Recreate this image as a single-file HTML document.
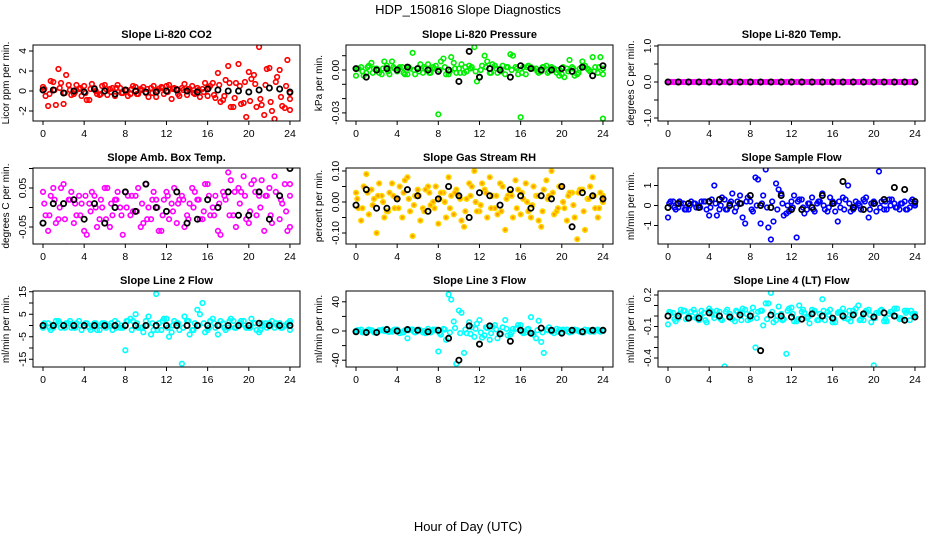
<!DOCTYPE html>
<html><head><meta charset="utf-8">
<style>
body{margin:0;background:#fff;}
svg{display:block;font-family:"Liberation Sans",Arial,sans-serif;}
</style></head>
<body>
<svg id="chart" width="936" height="540" viewBox="0 0 936 540">
<text x="468" y="14" font-size="13" text-anchor="middle">HDP_150816  Slope Diagnostics</text>
<text x="468" y="531" font-size="13" text-anchor="middle">Hour of Day (UTC)</text>
</svg>
<script>
// ---- data ----
const xTicks = [0,4,8,12,16,20,24];
const blackHours = [0,1,2,3,4,5,6,7,8,9,10,11,12,13,14,15,16,17,18,19,20,21,22,23,24];

const co2A = [0.4,-1.5,0.9,2.2,-1.3,0.6,-0.3,0.2,0.5,-0.9,0.3,-0.4,0.6,0.2,-0.5,0.3,0.1,-0.3,0.4,0.2,-0.2,0.3,-0.6,0.4,0.5,-0.8,0.2,0.3,-0.4,0.5,0.3,0.2,-0.5,0.8,1.8,-0.9,2.5,-1.6,2.7,-1.2,1.9,1.6,4.4,-2.4,2.3,-2.8,2.1,-1.7,-1.9];
const co2B = [-0.5,1.0,-1.4,0.8,1.6,-0.4,0.6,-0.5,-0.9,0.7,-0.3,0.5,-0.4,0.3,0.6,-0.2,-0.5,0.5,-0.3,0.4,-0.6,0.5,0.2,-0.3,0.6,0.3,-0.5,0.7,0.2,-0.3,-0.6,0.8,0.5,-0.7,-1.1,1.1,-1.6,0.8,-1.3,-2.6,1.2,-1.6,-1.4,2.2,-2.0,1.4,-1.5,3.1,-0.8];
const co2C = [0.2,-0.3,0.1,0.3,-0.2,0.1,-0.1,0.3,-0.2,0.2,0.0,-0.3,0.2,-0.1,0.3,-0.2,0.1,0.2,-0.3,0.1,0.2,-0.2,0.0,0.3,-0.1,0.2,-0.3,0.1,0.2,-0.2,0.1,-0.1,0.3,-0.4,0.6,-0.5,0.8,-0.7,0.5,0.9,-1.0,0.7,-0.8,0.6,-1.1,0.9,-0.6,0.5,-0.2];
const co2K = [0.1,0.1,-0.2,0.0,-0.1,0.2,0.0,-0.3,0.1,0.0,-0.1,-0.1,0.0,0.1,0.0,-0.1,0.2,0.1,0.0,0.0,-0.1,0.1,0.3,0.2,-0.1];

const presA = [-0.004,0.002,-0.002,0.005,0.001,-0.003,0.003,0.006,-0.001,0.002,-0.003,0.012,0.001,-0.002,0.004,0.002,-0.031,0.008,-0.003,0.005,0.001,-0.002,0.003,0.016,-0.005,0.010,-0.002,0.003,0.001,-0.003,0.011,0.002,-0.033,-0.003,0.002,0.001,-0.001,0.003,0.002,-0.002,-0.003,0.001,0.002,-0.003,0.006,0.001,0.009,-0.002,-0.034];
const presB = [0.001,-0.004,0.003,0.001,-0.002,0.006,-0.003,0.001,0.002,-0.003,0.001,-0.003,0.004,0.001,-0.002,0.003,0.006,-0.003,0.009,-0.002,0.004,-0.001,0.002,-0.008,0.003,0.006,0.004,-0.002,0.003,0.002,0.010,-0.003,0.002,0.003,0.001,-0.002,0.002,-0.001,0.001,-0.004,-0.005,0.007,-0.004,0.001,0.003,-0.001,0.002,0.009,-0.003];
const presC = [0.001,-0.001,0.002,-0.002,0.000,0.001,-0.001,0.002,0.001,-0.002,0.002,0.000,-0.001,0.002,-0.002,0.001,0.000,0.002,-0.001,0.001,-0.002,0.002,0.001,-0.001,0.000,0.002,-0.002,0.001,-0.001,0.002,0.000,0.001,-0.002,0.002,0.001,-0.001,0.002,-0.002,0.001,0.000,0.002,-0.001,0.001,-0.002,0.002,0.000,-0.001,0.002,0.001];
const presK = [0.001,-0.005,0.000,0.001,0.000,0.002,0.001,0.000,-0.001,0.000,-0.008,0.013,-0.005,0.001,0.000,-0.005,0.003,0.001,0.000,0.000,0.001,-0.001,0.002,-0.004,0.003];

const tempA = [0,0,0,0,0,0,0,0,0,0,0,0,0,0,0,0,0,0,0,0,0,0,0,0,0,0,0,0,0,0,0,0,0,0,0,0,0,0,0,0,0,0,0,0,0,0,0,0,0];
const tempB = [0,0,0,0,0,0,0,0,0,0,0,0,0,0,0,0,0,0,0,0,0,0,0,0,0,0,0,0,0,0,0,0,0,0,0,0,0,0,0,0,0,0,0,0,0,0,0,0,0];
const tempC = [0,0,0,0,0,0,0,0,0,0,0,0,0,0,0,0,0,0,0,0,0,0,0,0,0,0,0,0,0,0,0,0,0,0,0,0,0,0,0,0,0,0,0,0,0,0,0,0,0];
const tempK = [0,0,0,0,0,0,0,0,0,0,0,0,0,0,0,0,0,0,0,0,0,0,0,0,0];

const ambA = [0.04,-0.06,0.05,-0.03,0.06,0.02,-0.04,0.03,-0.06,0.01,0.03,-0.03,0.05,-0.05,0.02,0.00,0.04,-0.02,0.03,-0.05,0.06,-0.03,0.02,-0.06,0.04,0.01,-0.04,0.03,-0.02,0.05,0.02,-0.03,0.06,0.00,-0.06,0.04,0.09,-0.02,0.05,0.08,-0.04,0.07,0.03,-0.06,0.05,0.08,-0.03,0.06,-0.05];
const ambB = [-0.02,0.03,-0.04,0.05,-0.10,0.04,-0.02,0.01,-0.07,0.04,-0.05,0.00,0.05,-0.02,0.04,-0.07,0.03,-0.01,0.05,-0.04,0.00,0.04,-0.06,0.02,-0.03,0.05,0.02,-0.05,0.01,0.04,-0.03,0.06,-0.02,0.03,-0.07,0.02,0.07,-0.05,0.04,-0.03,0.06,-0.02,0.07,0.03,-0.04,0.11,0.01,-0.06,0.06];
const ambC = [0.01,-0.02,0.02,0.00,-0.03,0.02,0.01,-0.02,0.03,-0.01,0.00,0.02,-0.03,0.01,0.02,-0.02,0.00,0.03,-0.01,0.01,-0.03,0.02,0.00,-0.02,0.03,-0.01,0.01,0.02,-0.03,0.00,0.02,-0.01,0.03,-0.02,0.01,0.03,-0.02,0.04,0.01,0.03,-0.01,0.04,0.00,0.03,-0.02,0.04,0.02,-0.01,0.03];
const ambK = [-0.04,0.01,0.01,0.02,-0.03,0.01,-0.04,0.00,0.04,-0.01,0.06,0.00,-0.01,0.04,-0.04,-0.03,0.02,0.00,0.04,-0.02,-0.02,0.04,-0.03,0.03,0.10];

const rhA = [0.03,-0.06,0.09,0.04,-0.10,0.02,-0.03,0.06,0.01,-0.05,0.08,-0.11,0.04,-0.02,0.05,0.00,-0.07,0.03,0.08,-0.04,0.02,-0.08,0.06,0.10,-0.03,0.04,0.08,-0.02,0.06,-0.09,0.03,0.07,-0.04,0.06,-0.05,0.02,-0.08,0.07,0.10,-0.03,0.05,-0.06,0.03,-0.12,0.04,0.01,0.08,-0.05,0.02];
const rhB = [-0.02,0.05,-0.04,0.01,0.06,-0.05,0.03,-0.02,0.05,0.07,-0.03,0.02,-0.06,0.04,-0.01,0.05,0.03,-0.05,0.02,0.04,-0.06,0.01,0.05,-0.03,0.06,-0.05,0.02,-0.04,0.05,0.02,-0.05,0.04,0.01,-0.03,0.05,-0.06,0.04,0.02,-0.04,0.05,-0.02,0.03,-0.05,0.04,-0.09,0.05,-0.02,0.03,0.00];
const rhC = [0.01,-0.02,0.03,-0.01,0.02,0.00,-0.03,0.02,-0.02,0.03,0.01,-0.01,0.02,-0.03,0.03,-0.02,0.01,0.00,-0.02,0.03,0.01,-0.03,0.02,0.00,-0.01,0.03,-0.02,0.02,-0.03,0.01,0.02,-0.02,0.03,0.00,-0.01,0.02,-0.03,0.01,0.03,-0.02,0.00,0.02,-0.01,0.03,-0.03,0.01,0.02,-0.02,0.01];
const rhK = [-0.01,0.04,-0.02,-0.02,0.01,0.04,0.02,-0.03,0.01,0.05,0.02,-0.05,0.03,0.02,-0.01,0.04,0.02,-0.02,0.02,0.01,0.05,-0.08,0.03,0.02,0.01];

const flowA = [-0.6,0.2,-0.1,0.1,-0.2,0.1,0.0,0.2,-0.5,1.0,-0.2,0.3,0.1,-0.3,0.5,-0.9,0.2,1.4,-0.9,1.8,-1.7,1.1,0.6,-0.4,0.2,-1.6,0.3,-0.2,0.4,0.1,0.6,-0.3,0.2,-0.8,0.4,1.0,-0.2,0.1,0.3,-0.6,0.2,1.7,-0.2,0.3,0.1,-0.2,0.2,-0.1,0.0];
const flowB = [0.2,-0.2,0.1,-0.2,0.2,-0.1,0.2,-0.2,0.3,-0.5,0.4,-0.2,0.6,0.2,-0.6,0.4,-0.3,1.3,0.5,-1.1,-0.8,0.8,-0.5,-0.3,0.5,0.3,-0.4,0.1,-0.3,0.2,-0.2,0.4,-0.3,-0.1,0.3,-0.3,0.2,-0.2,0.4,0.1,-0.3,0.2,-0.2,0.3,-0.1,0.1,-0.2,0.3,0.1];
const flowC = [0.1,-0.1,0.2,-0.2,0.0,0.1,-0.1,0.2,-0.1,0.1,0.0,-0.2,0.2,-0.1,0.1,0.2,-0.2,0.0,0.1,-0.1,0.2,-0.2,0.1,0.0,-0.1,0.2,-0.1,0.1,-0.2,0.2,0.0,-0.1,0.1,0.2,-0.2,0.1,-0.1,0.0,0.2,-0.2,0.1,-0.1,0.2,0.0,-0.1,0.1,-0.2,0.2,0.0];
const flowK = [-0.1,0.1,0.1,-0.1,0.2,0.3,0.0,0.1,0.5,0.0,-0.1,0.5,-0.2,-0.2,-0.1,0.5,0.1,1.2,-0.1,-0.2,0.1,0.3,0.9,0.8,0.2];

const l2A = [-1,1,-1,2,0,1,-1,2,0,-1,1,-2,1,0,2,-1,-11,3,5,-1,2,-4,14,-2,3,-3,1,-17,2,-2,7,10,-2,3,-4,1,-1,2,0,2,-1,1,-3,0,1,-1,1,0,-2];
const l2B = [0,-2,2,-1,1,-1,1,-2,1,0,-2,1,0,-2,1,-1,2,2,-1,-3,4,-2,1,3,-5,2,-2,4,-4,1,5,-3,2,-1,2,-2,3,-1,2,-1,3,-2,1,-1,2,0,-1,1,2];
const l2C = [1,-1,0,1,-1,2,-1,0,1,-2,1,0,-1,1,-1,0,2,-2,1,-1,0,1,-2,2,-1,0,1,-1,2,-2,0,1,-1,1,0,-1,2,-1,1,0,-1,1,-2,1,0,1,-1,0,1];
const l2K = [0,0,0,0,0,0,0,0,0,0,0,0,0,0,0,0,0,0,0,0,0,1,0,0,0];

const l3A = [0,2,-1,1,-2,1,3,-1,2,-2,-10,2,1,-2,3,2,-28,3,50,13,28,-30,12,-8,15,-6,-12,8,-4,15,-5,3,8,-2,19,-10,-15,2,-1,3,-2,2,-1,1,-2,1,0,2,1];
const l3B = [1,-1,2,-2,1,0,-1,2,-3,1,2,-2,1,-3,-2,2,-5,-12,43,-45,25,-3,5,10,-9,4,6,-10,5,-6,3,8,-3,3,-5,14,-30,5,-3,2,1,-2,2,-1,2,-1,1,-1,0];
const l3C = [1,-2,1,0,-1,2,-1,1,0,-2,1,-1,2,0,-1,1,-3,2,-2,4,-3,2,-4,3,-2,5,-3,2,-4,3,-2,4,-1,2,-3,1,-2,1,0,-1,2,-1,1,0,-2,1,-1,0,1];
const l3K = [-1,-2,-2,2,0,2,1,-1,1,-10,-40,7,-18,7,-4,-14,1,-3,4,1,-3,1,-1,1,1];

const l4A = [-0.08,0.03,-0.02,0.05,0.00,0.06,-0.04,0.03,0.07,-0.02,0.04,-0.48,0.02,-0.05,0.03,0.06,-0.03,-0.30,0.05,0.12,0.22,-0.04,0.02,-0.36,0.08,-0.05,0.04,-0.02,0.06,-0.04,0.16,0.04,-0.06,0.03,0.07,-0.03,0.05,0.10,-0.04,0.06,-0.47,0.03,-0.05,0.02,0.07,-0.03,0.05,-0.04,0.02];
const l4B = [0.03,-0.05,0.06,-0.03,0.04,-0.02,0.05,-0.06,0.02,0.05,-0.04,0.06,-0.03,0.04,0.07,-0.04,0.08,0.04,-0.09,0.12,-0.06,0.09,-0.03,0.07,-0.05,0.10,0.03,-0.07,0.05,0.02,-0.04,0.06,-0.06,0.04,0.02,-0.05,0.07,-0.03,0.05,-0.06,0.03,0.06,-0.05,0.04,0.07,-0.03,0.05,0.02,-0.01];
const l4C = [0.04,-0.03,0.02,0.05,-0.02,0.03,0.00,-0.04,0.05,0.01,-0.03,0.04,-0.01,0.05,-0.04,0.02,0.03,-0.02,0.05,-0.03,0.04,0.00,-0.04,0.05,0.02,-0.03,0.06,-0.01,0.03,-0.04,0.05,0.01,-0.03,0.04,-0.02,0.05,0.02,-0.04,0.03,0.01,-0.02,0.05,-0.03,0.04,0.00,-0.02,0.03,0.05,0.01];
const l4K = [0.0,0.0,-0.02,-0.02,0.03,0.0,-0.01,0.01,0.0,-0.33,0.01,0.0,-0.01,-0.03,0.02,0.0,-0.02,0.0,0.01,0.02,-0.01,0.03,0.0,-0.04,-0.01];

const co2Ticks=[-2,0,2,4], co2Labels=["-2","0","2","4"];
const presTicks=[0.01,0,-0.01,-0.02,-0.03], presLabels=["","0.00","","","-0.03"];
const tempTicks=[1,0.5,0,-0.5,-1], tempLabels=["1.0","","0.0","","-1.0"];
const ambTicks=[0.1,0.05,0,-0.05], ambLabels=["","0.05","","-0.05"];
const rhTicks=[0.1,0.05,0,-0.05,-0.1], rhLabels=["0.10","","0.00","","-0.10"];
const flowTicks=[1,0,-1], flowLabels=["1","0","-1"];
const l2Ticks=[15,10,5,0,-5,-10,-15], l2Labels=["15","","5","","-5","","-15"];
const l3Ticks=[40,20,0,-20,-40], l3Labels=["40","","0","","-40"];
const l4Ticks=[0.2,0.1,0,-0.1,-0.2,-0.3,-0.4], l4Labels=["0.2","","","-0.1","","","-0.4"];

// ---- layout ----
const colLeft=[33,346,658], BW=267;
const rowTop=[45,168,291], BH=76;
const panels=[
 {name:"co2",title:"Slope Li-820 CO2",ylab:"Licor ppm per min.",c:0,r:0,y0:91,k:10,A:co2A,B:co2B,C:co2C,K:co2K,t:co2Ticks,l:co2Labels,col:"#ff0000"},
 {name:"pressure",title:"Slope Li-820 Pressure",ylab:"kPa per min.",c:1,r:0,y0:70,k:1430,A:presA,B:presB,C:presC,K:presK,t:presTicks,l:presLabels,col:"#00ee00"},
 {name:"temp",title:"Slope Li-820 Temp.",ylab:"degrees C per min.",c:2,r:0,y0:82,k:36,A:tempA,B:tempB,C:tempC,K:tempK,t:tempTicks,l:tempLabels,col:"#ff00ff"},
 {name:"amb-box-temp",title:"Slope Amb. Box Temp.",ylab:"degrees C per min.",c:0,r:1,y0:207.5,k:390,A:ambA,B:ambB,C:ambC,K:ambK,t:ambTicks,l:ambLabels,col:"#ff00ff"},
 {name:"gas-stream-rh",title:"Slope Gas Stream RH",ylab:"percent per min.",c:1,r:1,y0:202,k:310,A:rhA,B:rhB,C:rhC,K:rhK,t:rhTicks,l:rhLabels,col:"#ffd700",inner:"#ff9a00"},
 {name:"sample-flow",title:"Slope Sample Flow",ylab:"ml/min per min.",c:2,r:1,y0:205.5,k:20,A:flowA,B:flowB,C:flowC,K:flowK,t:flowTicks,l:flowLabels,col:"#0000ff"},
 {name:"line2-flow",title:"Slope Line 2 Flow",ylab:"ml/min per min.",c:0,r:2,y0:325.5,k:2.25,A:l2A,B:l2B,C:l2C,K:l2K,t:l2Ticks,l:l2Labels,col:"#00ffff"},
 {name:"line3-flow",title:"Slope Line 3 Flow",ylab:"ml/min per min.",c:1,r:2,y0:331,k:0.73,A:l3A,B:l3B,C:l3C,K:l3K,t:l3Ticks,l:l3Labels,col:"#00ffff"},
 {name:"line4-flow",title:"Slope Line 4 (LT) Flow",ylab:"ml/min per min.",c:2,r:2,y0:316,k:105,A:l4A,B:l4B,C:l4C,K:l4K,t:l4Ticks,l:l4Labels,col:"#00ffff"}
];
const NS="http://www.w3.org/2000/svg";
const svg=document.getElementById('chart');
function mk(tag,attrs,parent){const e=document.createElementNS(NS,tag);for(const k in attrs)e.setAttribute(k,attrs[k]);(parent||svg).appendChild(e);return e;}

panels.forEach(p=>{
  const L=colLeft[p.c], T=rowTop[p.r];
  const xs=h=>L+10+h*10.29;
  const ys=v=>p.y0-v*p.k;
  const g=mk('g',{});
  
  
  const cp=mk('clipPath',{id:'cp'+p.name},g);
  mk('rect',{x:L,y:T,width:BW,height:BH},cp);
  const t=mk('text',{x:L+BW/2,y:T-7,'font-size':11,'font-weight':'bold','text-anchor':'middle'},g);
  t.textContent=p.title;
  
  
  const yl=mk('text',{x:0,y:0,'font-size':10,'text-anchor':'middle',transform:`translate(${L-24},${T+BH/2}) rotate(-90)`},g);
  yl.textContent=p.ylab;
  
  
  const yt=p.t.map(ys);
  mk('line',{x1:L,x2:L,y1:Math.min(...yt),y2:Math.max(...yt),stroke:'#000'},g);
  p.t.forEach((v,i)=>{
    const y=ys(v);
    mk('line',{x1:L-4,x2:L,y1:y,y2:y,stroke:'#000'},g);
    if(p.l[i]){const tl=mk('text',{x:0,y:0,'font-size':10.5,'text-anchor':'middle',transform:`translate(${L-7},${y}) rotate(-90)`},g);tl.textContent=p.l[i];
      
      }
  });
  mk('line',{x1:xs(0),x2:xs(24),y1:T+BH,y2:T+BH,stroke:'#000'},g);
  xTicks.forEach(h=>{
    mk('line',{x1:xs(h),x2:xs(h),y1:T+BH,y2:T+BH+4,stroke:'#000'},g);
    const tl=mk('text',{x:xs(h),y:T+BH+16,'font-size':10.5,'text-anchor':'middle'},g);tl.textContent=h;
    
    
  });
  const pg=mk('g',{'clip-path':`url(#cp${p.name})`},g);
  const drawSeries=(arr,off)=>{
    const n=arr.length;
    arr.forEach((v,i)=>{
      const h=i*24/(n-1)+off;
      const c=mk('circle',{cx:xs(Math.min(h,24)),cy:ys(v),r:2.3,fill:p.inner||'none',stroke:p.col,'stroke-width':1.6},pg);
      
      
    });
  };
  drawSeries(p.A,0); drawSeries(p.B,0.25); drawSeries(p.C,0.125);
  p.K.forEach((v,i)=>{
    const c=mk('circle',{cx:xs(blackHours[i]),cy:ys(v),r:2.6,fill:'none',stroke:'#000','stroke-width':1.8},pg);
    
    
  });
  mk('rect',{x:L,y:T,width:BW,height:BH,fill:'none',stroke:'#000'},g);
});
</script>
</body></html>
